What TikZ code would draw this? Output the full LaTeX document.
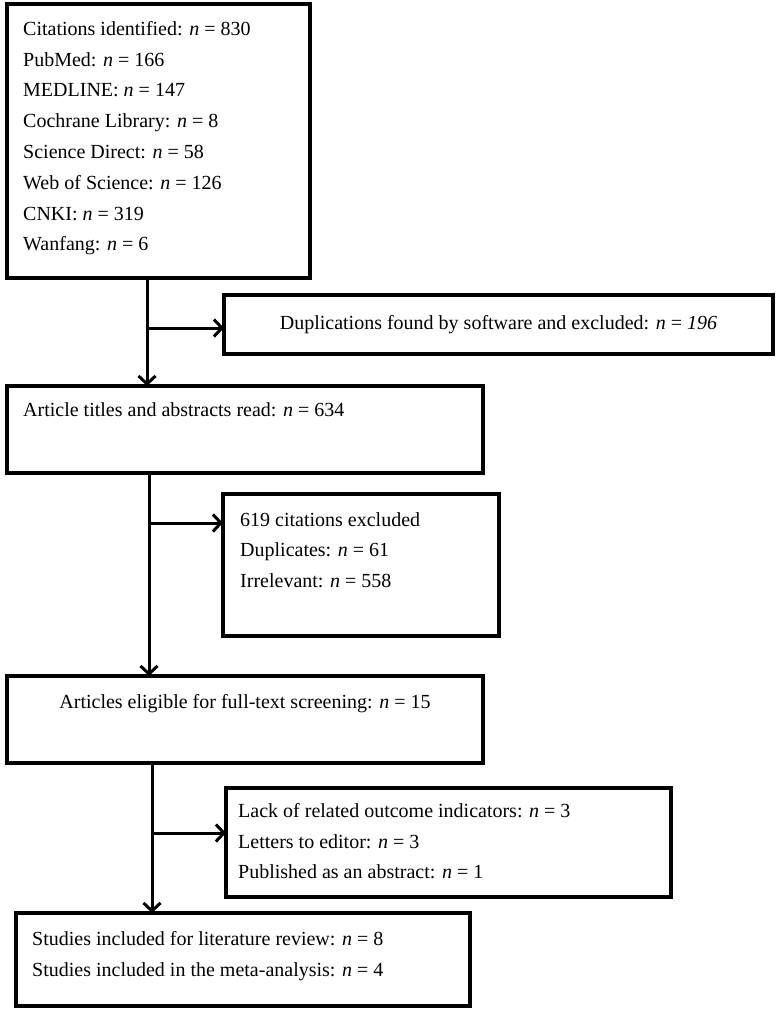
\documentclass[tikz,border=0pt]{standalone}
\usepackage{fontspec}
\setmainfont{Liberation Serif}
\usetikzlibrary{arrows.meta,positioning}

\tikzset{
  stagebox/.style={draw, line width=3.4pt, anchor=north west, inner sep=0pt, outer sep=0pt},
  boxtext/.style={anchor=north west, align=left, inner sep=0pt,
    font=\fontsize{20}{30.8}\selectfont},
  flow/.style={line width=3pt, -{Straight Barb[length=8pt,width=17pt]}},
}

\begin{document}
\begin{tikzpicture}[x=1pt, y=-1pt]
\useasboundingbox (0,0) rectangle (782,1012);

% boxes
\node[stagebox, minimum width=303, minimum height=274] (sources) at (7,4) {};
\node[stagebox, minimum width=549, minimum height=59] (dup) at (224,295) {};
\node[stagebox, minimum width=476, minimum height=87] (titles) at (7,386) {};
\node[stagebox, minimum width=276, minimum height=142] (exclA) at (223,494) {};
\node[stagebox, minimum width=476, minimum height=87] (eligible) at (7,676) {};
\node[stagebox, minimum width=445, minimum height=109] (exclB) at (226,788) {};
\node[stagebox, minimum width=454, minimum height=93] (included) at (16,913) {};

% texts
\node[boxtext] (sourcestext) at ([shift={(16,17)}]sources.north west) {
Citations identified: \textit{n} = 830\\
PubMed: \textit{n} = 166\\
MEDLINE: \textit{n} = 147\\
Cochrane Library: \textit{n} = 8\\
Science Direct: \textit{n} = 58\\
Web of Science: \textit{n} = 126\\
CNKI: \textit{n} = 319\\
Wanfang: \textit{n} = 6};
\node[boxtext, anchor=center] (duptext) at (dup.center)
  {Duplications found by software and excluded: \textit{n} = \textit{196}};
\node[boxtext] (titlestext) at ([shift={(16,16)}]titles.north west)
  {Article titles and abstracts read: \textit{n} = 634};
\node[boxtext] (exclAtext) at ([shift={(17,18)}]exclA.north west) {
619 citations excluded\\
Duplicates: \textit{n} = 61\\
Irrelevant: \textit{n} = 558};
\node[boxtext, anchor=base] (eligibletext) at ([shift={(0,32)}]eligible.north)
  {Articles eligible for full-text screening: \textit{n} = 15};
\node[boxtext] (exclBtext) at ([shift={(12,15)}]exclB.north west) {
Lack of related outcome indicators: \textit{n} = 3\\
Letters to editor: \textit{n} = 3\\
Published as an abstract: \textit{n} = 1};
\node[boxtext] (includedtext) at ([shift={(16,18)}]included.north west) {
Studies included for literature review: \textit{n} = 8\\
Studies included in the meta-analysis: \textit{n} = 4};

% connectors
\coordinate (splitA) at (147,328);
\coordinate (splitB) at (149,523);
\coordinate (splitC) at (152,833);
\draw[flow] (splitA |- sources.south) -- (splitA |- titles.north);
\draw[flow] (splitA) -- (splitA -| dup.west);
\draw[flow] (splitB |- titles.south) -- (splitB |- eligible.north);
\draw[flow] (splitB) -- (splitB -| exclA.west);
\draw[flow] (splitC |- eligible.south) -- (splitC |- included.north);
\draw[flow] (splitC) -- (splitC -| exclB.west);
\end{tikzpicture}
\end{document}
